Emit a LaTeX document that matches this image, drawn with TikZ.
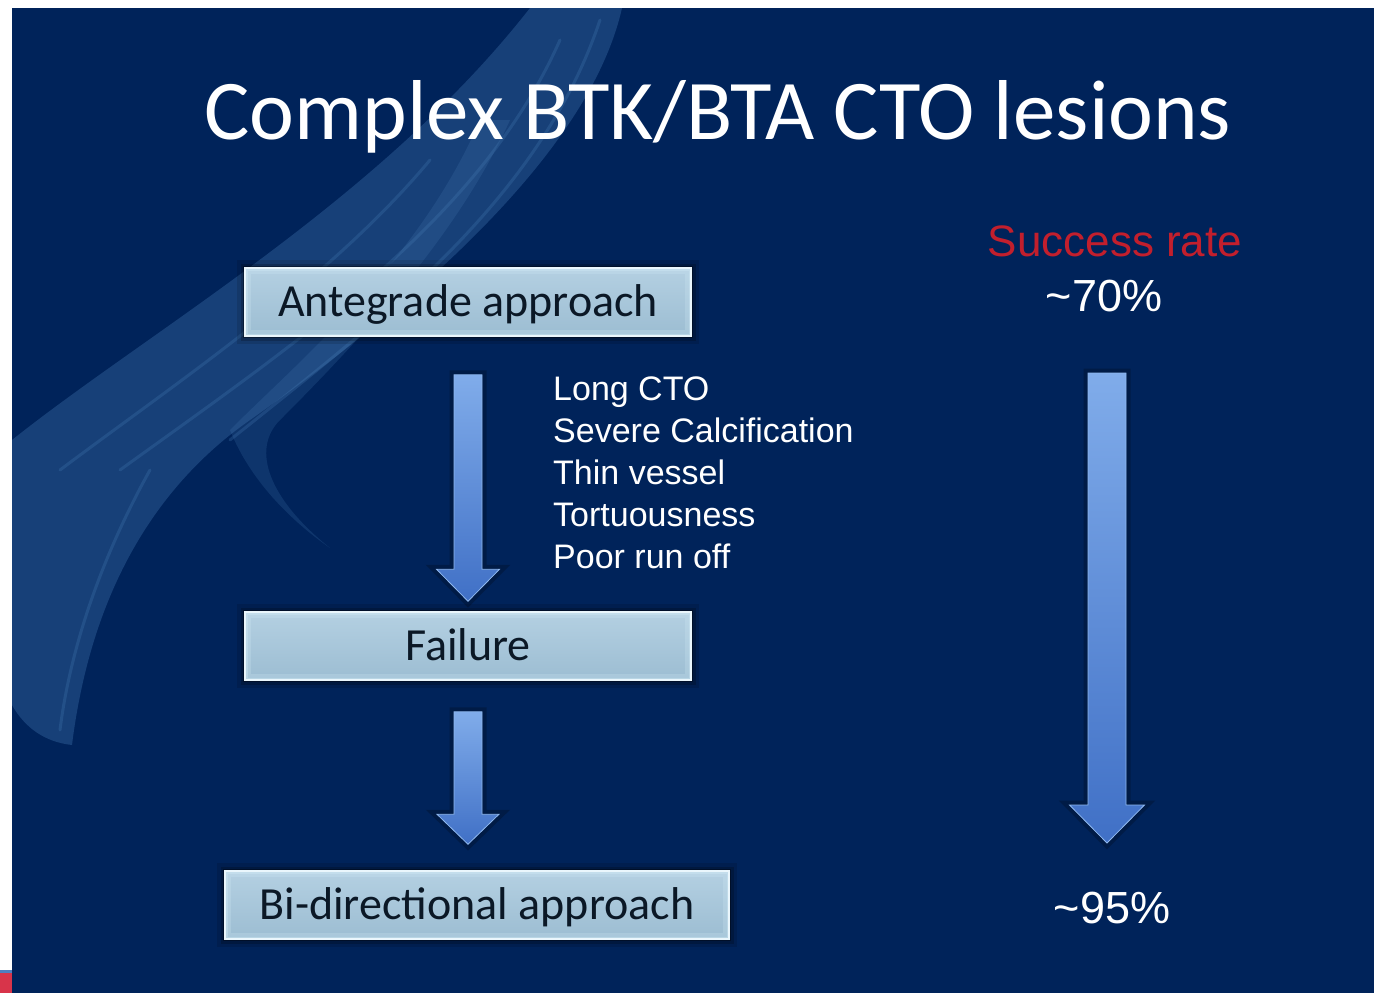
\documentclass[tikz,border=0pt]{standalone}
\usepackage{fontspec}
\newfontfamily\calfont{Carlito}
\newfontfamily\arifont{Liberation Sans}
\usetikzlibrary{calc}
\definecolor{navy}{HTML}{00235A}
\definecolor{brush}{HTML}{4A80B8}
\definecolor{boxtop}{HTML}{B4D0E2}
\definecolor{boxmid}{HTML}{7FA2BC}
\definecolor{boxbot}{HTML}{9CBDD2}
\definecolor{boxglow}{HTML}{D6EEF8}
\definecolor{boxedge}{HTML}{EAF6FC}
\definecolor{boxtext}{HTML}{0B1826}
\definecolor{arrtop}{HTML}{80ACEA}
\definecolor{arrbot}{HTML}{4070C6}
\definecolor{arredge}{HTML}{8FB8EE}
\definecolor{redtext}{HTML}{C21F2D}
\definecolor{stripblue}{HTML}{4F7FC0}
\definecolor{stripred}{HTML}{D8344A}
\newcommand{\blockarrow}[5]{%
  \path[arrowbody] let \p1=(#1), \p2=(#2) in
    (\x1-#3,\y1) -- (\x1+#3,\y1) -- (\x1+#3,\y2+#5) -- (\x1+#4,\y2+#5) --
    (\x1,\y2) -- (\x1-#4,\y2+#5) -- (\x1-#3,\y2+#5) -- cycle;}
\tikzset{
  slidebox/.style={
    draw=boxedge, line width=1.5pt,
    top color=boxtop, middle color=boxmid, bottom color=boxbot,
    preaction={draw=black, line width=16pt, opacity=0.12},
    preaction={draw=black, line width=9pt, opacity=0.2},
    preaction={draw=black, line width=4pt, opacity=0.35},
    path picture={
      \draw[boxglow, line width=12pt, opacity=0.22]
        (path picture bounding box.south west) rectangle (path picture bounding box.north east);
      \draw[boxglow, line width=5pt, opacity=0.35]
        (path picture bounding box.south west) rectangle (path picture bounding box.north east);
    },
    font=\calfont\fontsize{46}{52}\selectfont, text=boxtext,
    text height=29pt, text depth=0pt, inner sep=0pt,
    minimum height=68pt},
  arrowbody/.style={
    top color=arrtop, bottom color=arrbot,
    draw=arredge, line width=0.8pt, line join=miter,
    preaction={draw=black, line width=9pt, opacity=0.22}},
  titletext/.style={font=\calfont\fontsize{85}{95}\selectfont, text=white, inner sep=0pt},
  listtext/.style={font=\arifont\fontsize{34}{42}\selectfont, text=white, inner sep=0pt, align=left},
  ratetext/.style={font=\arifont\fontsize{45}{50}\selectfont, text=white, inner sep=0pt},
  redlabel/.style={font=\arifont\fontsize{44}{50}\selectfont, text=redtext, inner sep=0pt},
  brushstroke/.style={fill=brush, fill opacity=0.32},
  brushline/.style={draw=brush, opacity=0.25, line width=3pt, line cap=round}
}
\begin{document}
\begin{tikzpicture}[x=1pt,y=-1pt]
\useasboundingbox (0,0) rectangle (1374,993);
% frame and background
\fill[white] (0,0) rectangle (1374,993);
\fill[navy] (12,8) rectangle (1374,993);
\fill[stripblue] (0,970) rectangle (12,973);
\fill[stripred] (0,973) rectangle (12,993);
% brush swoosh
\begin{scope}
\clip (12,8) rectangle (1374,993);
\path[brushstroke] (530,8) -- (622,8)
  .. controls (590,150) and (420,300) .. (250,420)
  .. controls (150,490) and (90,600) .. (72,745)
  .. controls (45,742) and (25,728) .. (12,705)
  -- (12,440)
  .. controls (150,330) and (380,200) .. (530,8) -- cycle;
\path[brushstroke, fill opacity=0.2] (480,120)
  .. controls (420,260) and (300,360) .. (230,430)
  .. controls (250,480) and (290,520) .. (330,548)
  .. controls (270,500) and (250,450) .. (280,420)
  .. controls (370,330) and (460,230) .. (510,120) -- cycle;
\draw[brushline] (600,20) .. controls (540,200) and (380,320) .. (230,440);
\draw[brushline] (560,40) .. controls (480,220) and (300,340) .. (120,470);
\draw[brushline] (430,160) .. controls (330,280) and (180,380) .. (60,470);
\draw[brushline] (150,470) .. controls (100,560) and (70,650) .. (60,730);
\end{scope}
% title
\node[titletext, anchor=base] (title) at (718,139) {Complex BTK/BTA CTO lesions};
% boxes
\node[slidebox, minimum width=446pt] (ante) at (468,302) {Antegrade approach};
\node[slidebox, minimum width=446pt] (fail) at (468,646) {Failure};
\node[slidebox, minimum width=504pt] (bidir) at (477,905) {Bi-directional approach};
% list of reasons
\node[listtext, anchor=north west] (reasons) at (553,377)
  {Long CTO\\Severe Calcification\\Thin vessel\\Tortuousness\\Poor run off};
% success rates
\node[redlabel, anchor=base] (rate) at (1115,256) {Success rate};
\node[ratetext, anchor=base] (p70) at (1104,311) {\textasciitilde 70\%};
\node[ratetext, anchor=base] (p95) at (1112,923) {\textasciitilde 95\%};
% arrows
\coordinate (a1top) at ([yshift=-38pt]ante.south);
\coordinate (a1tip) at ([yshift=10pt]fail.north);
\coordinate (a2top) at ([yshift=-31pt]fail.south);
\coordinate (a2tip) at ([yshift=26pt]bidir.north -| fail.south);
\coordinate (a3top) at (1107,373);
\coordinate (a3tip) at (1107,843);
\blockarrow{a1top}{a1tip}{14pt}{31.5pt}{32pt}
\blockarrow{a2top}{a2tip}{14pt}{31pt}{30pt}
\blockarrow{a3top}{a3tip}{19pt}{37.5pt}{38pt}
\end{tikzpicture}
\end{document}
